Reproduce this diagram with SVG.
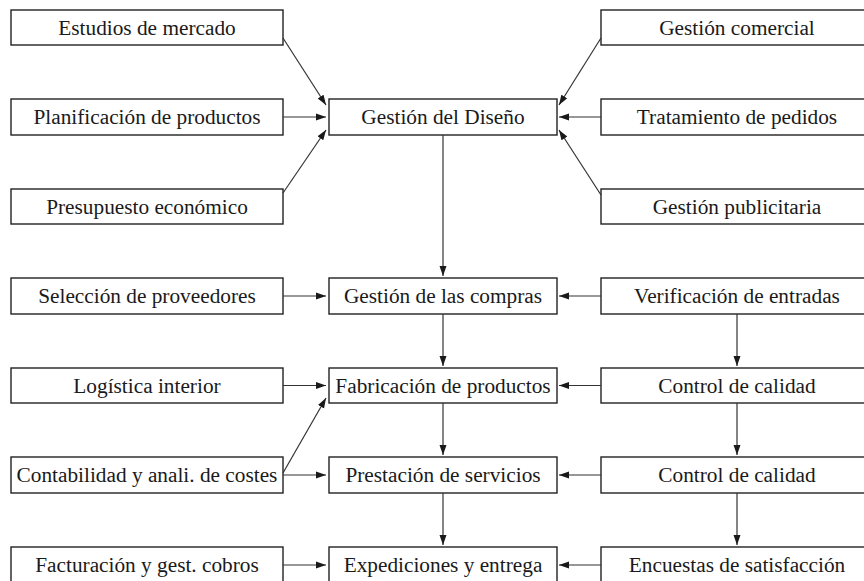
<svg xmlns="http://www.w3.org/2000/svg" width="864" height="581" viewBox="0 0 864 581">
<defs>
<marker id="ah" markerUnits="userSpaceOnUse" markerWidth="10" markerHeight="8" refX="10" refY="4" orient="auto">
<path d="M0,0.5 L10,4 L0,7.5 z" fill="#1a1a1a"/>
</marker>
<style>
rect{fill:#fff;stroke:#222;stroke-width:1.4}
text{font-family:"Liberation Serif","Times New Roman",serif;font-size:21.3px;fill:#1a1a1a;text-anchor:middle}
#connectors line{stroke:#333;stroke-width:1.2;marker-end:url(#ah)}
</style>
</defs>
<rect x="0" y="0" width="864" height="581" style="fill:#fff;stroke:none"/>
<g id="n_estudios"><rect x="11" y="10" width="272" height="35"/><text x="147" y="34.5">Estudios de mercado</text></g>
<g id="n_planificacion"><rect x="11" y="99" width="272" height="36"/><text x="147" y="124">Planificación de productos</text></g>
<g id="n_presupuesto"><rect x="11" y="189" width="272" height="35"/><text x="147" y="213.5">Presupuesto económico</text></g>
<g id="n_diseno"><rect x="329" y="99" width="228" height="36"/><text x="443" y="124">Gestión del Diseño</text></g>
<g id="n_comercial"><rect x="601" y="10" width="272" height="35"/><text x="737" y="34.5">Gestión comercial</text></g>
<g id="n_pedidos"><rect x="601" y="99" width="272" height="36"/><text x="737" y="124">Tratamiento de pedidos</text></g>
<g id="n_publicitaria"><rect x="601" y="189" width="272" height="35"/><text x="737" y="213.5">Gestión publicitaria</text></g>
<g id="n_proveedores"><rect x="11" y="278" width="272" height="36"/><text x="147" y="303">Selección de proveedores</text></g>
<g id="n_compras"><rect x="329" y="278" width="228" height="36"/><text x="443" y="303">Gestión de las compras</text></g>
<g id="n_verificacion"><rect x="601" y="278" width="272" height="36"/><text x="737" y="303">Verificación de entradas</text></g>
<g id="n_logistica"><rect x="11" y="368" width="272" height="35"/><text x="147" y="392.5">Logística interior</text></g>
<g id="n_fabricacion"><rect x="329" y="368" width="228" height="35"/><text x="443" y="392.5">Fabricación de productos</text></g>
<g id="n_calidad1"><rect x="601" y="368" width="272" height="35"/><text x="737" y="392.5">Control de calidad</text></g>
<g id="n_contabilidad"><rect x="11" y="457" width="272" height="36"/><text x="147" y="482">Contabilidad y anali. de costes</text></g>
<g id="n_prestacion"><rect x="329" y="457" width="228" height="36"/><text x="443" y="482">Prestación de servicios</text></g>
<g id="n_calidad2"><rect x="601" y="457" width="272" height="36"/><text x="737" y="482">Control de calidad</text></g>
<g id="n_facturacion"><rect x="11" y="547" width="272" height="40"/><text x="147" y="572">Facturación y gest. cobros</text></g>
<g id="n_expediciones"><rect x="329" y="547" width="228" height="40"/><text x="443" y="572">Expediciones y entrega</text></g>
<g id="n_encuestas"><rect x="601" y="547" width="272" height="40"/><text x="737" y="572">Encuestas de satisfacción</text></g>
<g id="connectors">
<line x1="283" y1="38" x2="326" y2="105"/>
<line x1="283" y1="117" x2="326" y2="117"/>
<line x1="283" y1="193" x2="326" y2="130"/>
<line x1="601" y1="38" x2="559" y2="105"/>
<line x1="601" y1="117" x2="559" y2="117"/>
<line x1="601" y1="195" x2="559" y2="130"/>
<line x1="443" y1="135" x2="443" y2="276"/>
<line x1="283" y1="296" x2="326" y2="296"/>
<line x1="601" y1="296" x2="559" y2="296"/>
<line x1="443" y1="314" x2="443" y2="366"/>
<line x1="737" y1="314" x2="737" y2="366"/>
<line x1="283" y1="385.5" x2="326" y2="385.5"/>
<line x1="601" y1="385.5" x2="559" y2="385.5"/>
<line x1="283" y1="473" x2="326" y2="398"/>
<line x1="443" y1="403" x2="443" y2="455"/>
<line x1="737" y1="403" x2="737" y2="455"/>
<line x1="283" y1="475" x2="326" y2="475"/>
<line x1="601" y1="475" x2="559" y2="475"/>
<line x1="443" y1="493" x2="443" y2="545"/>
<line x1="737" y1="493" x2="737" y2="545"/>
<line x1="283" y1="565" x2="326" y2="565"/>
<line x1="601" y1="565" x2="559" y2="565"/>
</g>
</svg>
